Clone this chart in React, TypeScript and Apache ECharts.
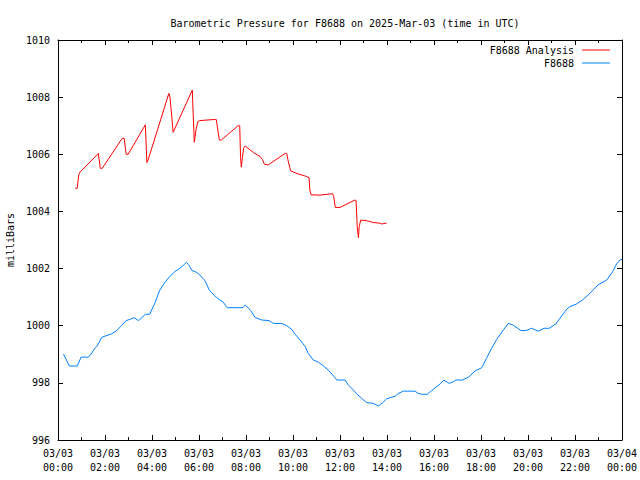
import React, { useEffect, useRef } from "react";
import * as echarts from "echarts";

const FONT = "'DejaVu Sans Mono', 'Liberation Mono', monospace";

const titleText = "Barometric Pressure for F8688 on 2025-Mar-03 (time in UTC)";
const yAxisName = "milliBars";
const analysisName = "F8688 Analysis";
const obsName = "F8688";

// minutes after 2025-03-03 00:00 UTC
const analysisMinutes = [
  44, 49, 53, 56, 103, 108, 113, 164, 169, 174, 179, 223, 227, 230, 283, 286, 294,
  343, 344, 348, 350, 353, 357, 362, 402, 404, 412, 417, 460, 464, 466, 468, 471,
  474, 478, 499, 516, 522, 527, 537, 580, 584, 588, 594, 610, 635, 641, 643, 646,
  667, 701, 704, 708, 720, 758, 761, 764, 767, 769, 773, 790, 805, 822, 826, 839,
];
const analysisValues = [
  1004.81, 1004.81, 1005.28, 1005.37, 1006.03, 1005.51, 1005.51, 1006.56, 1006.56,
  1006.0, 1006.0, 1007.03, 1005.71, 1005.8, 1008.13, 1008.0, 1006.77, 1008.25,
  1007.81, 1006.42, 1006.62, 1006.91, 1007.14, 1007.18, 1007.22, 1007.22, 1006.5,
  1006.5, 1007.0, 1007.0, 1005.92, 1005.55, 1005.9, 1006.21, 1006.29, 1006.06,
  1005.92, 1005.82, 1005.65, 1005.63, 1006.03, 1006.03, 1005.74, 1005.42, 1005.33,
  1005.22, 1005.18, 1004.75, 1004.58, 1004.57, 1004.62, 1004.52, 1004.14, 1004.14,
  1004.4, 1004.38, 1003.47, 1003.08, 1003.47, 1003.7, 1003.67, 1003.61, 1003.59,
  1003.56, 1003.59,
];

const obsMinutes = [
  14, 29, 49, 59, 77, 82, 94, 99, 112, 123, 136, 149, 162, 174, 183, 194, 206, 223,
  234, 247, 260, 272, 285, 298, 309, 319, 328, 334, 342, 351, 362, 375, 387, 400,
  413, 421, 432, 472, 478, 492, 503, 520, 539, 550, 571, 584, 597, 605, 618, 631,
  639, 652, 665, 677, 690, 701, 712, 733, 741, 754, 763, 775, 788, 805, 818, 829,
  839, 850, 862, 869, 882, 911, 920, 929, 943, 954, 967, 977, 985, 999, 1009, 1016,
  1033, 1050, 1065, 1082, 1094, 1107, 1120, 1137, 1150, 1162, 1182, 1195, 1209,
  1226, 1241, 1254, 1271, 1286, 1299, 1307, 1324, 1341, 1358, 1379, 1401, 1416,
  1426, 1435, 1440,
];
const obsValues = [
  999.01, 998.59, 998.59, 998.9, 998.9, 998.96, 999.21, 999.27, 999.6, 999.65,
  999.71, 999.82, 1000.0, 1000.18, 1000.22, 1000.28, 1000.18, 1000.4, 1000.4,
  1000.78, 1001.25, 1001.5, 1001.72, 1001.89, 1001.99, 1002.1, 1002.22, 1002.13,
  1001.93, 1001.89, 1001.78, 1001.58, 1001.23, 1001.05, 1000.9, 1000.84, 1000.63,
  1000.63, 1000.73, 1000.53, 1000.29, 1000.2, 1000.18, 1000.08, 1000.08, 1000.0,
  999.87, 999.71, 999.5, 999.27, 999.03, 998.8, 998.72, 998.6, 998.45, 998.28,
  998.1, 998.1, 997.93, 997.75, 997.61, 997.46, 997.31, 997.28, 997.19, 997.31,
  997.44, 997.49, 997.54, 997.63, 997.71, 997.71, 997.63, 997.6, 997.6, 997.73,
  997.87, 997.98, 998.1, 997.98, 998.04, 998.1, 998.1, 998.22, 998.42, 998.53,
  998.86, 999.21, 999.52, 999.85, 1000.08, 1000.02, 999.83, 999.83, 999.91,
  999.81, 999.91, 999.91, 1000.06, 1000.34, 1000.58, 1000.67, 1000.76, 1000.92,
  1001.13, 1001.43, 1001.6, 1001.89, 1002.16, 1002.3, 1002.32,
];

const xMinHours = 0;
const xMaxHours = 24;
const xStepHours = 2;
const yMin = 996;
const yMax = 1010;
const yStep = 2;

const pad2 = (n: number) => (n < 10 ? "0" + n : "" + n);
const xLabel = (h: number) => {
  const day = h >= 24 ? "03/04" : "03/03";
  const hh = Math.round(h) % 24;
  return day + "\n" + pad2(hh) + ":00";
};

export default function App() {
  const ref = useRef<HTMLDivElement>(null);
  useEffect(() => {
    if (!ref.current) return;
    const chart = echarts.init(ref.current, undefined, { renderer: "svg" });
    const analysisData = analysisMinutes.map((m, i) => [m / 60, analysisValues[i]]);
    const obsData = obsMinutes.map((m, i) => [m / 60, obsValues[i]]);
    const axisLine = { show: true, onZero: false, lineStyle: { color: "#000", width: 1 } };
    const baseX = {
      type: "value" as const,
      min: xMinHours,
      max: xMaxHours,
      interval: xStepHours,
      axisLine,
      axisTick: { show: true, inside: true, length: 5, lineStyle: { color: "#000" } },
      minorTick: { show: true, splitNumber: 2, length: 3, lineStyle: { color: "#000" } },
      splitLine: { show: false },
      minorSplitLine: { show: false },
    };
    const baseY = {
      type: "value" as const,
      min: yMin,
      max: yMax,
      interval: yStep,
      axisLine,
      axisTick: { show: true, inside: true, length: 5, lineStyle: { color: "#000" } },
      splitLine: { show: false },
    };
    const legendText = { fontFamily: FONT, fontSize: 10, color: "#000", padding: [0, 3, 0, 0] };
    const legendBase = {
      orient: "vertical",
      align: "right",
      right: 25,
      itemWidth: 28,
      itemHeight: 1,
      icon: "rect",
      textStyle: legendText,
    };
    chart.setOption({
      animation: false,
      backgroundColor: "#fff",
      title: {
        text: titleText,
        left: 340,
        top: 13,
        textAlign: "center",
        textStyle: { fontFamily: FONT, fontSize: 10, fontWeight: "normal", color: "#000" },
      },
      legend: [
        { ...legendBase, data: [analysisName], top: 40 },
        { ...legendBase, data: [obsName], top: 53 },
      ],
      grid: {
        left: 58,
        right: 18,
        top: 40,
        bottom: 40,
        containLabel: false,
        outerBoundsMode: "none",
      },
      xAxis: [
        {
          ...baseX,
          position: "bottom",
          axisLabel: {
            show: true,
            formatter: (v: number) => xLabel(v),
            fontFamily: FONT,
            fontSize: 10,
            color: "#000",
            lineHeight: 14,
            margin: 6,
          },
        },
        {
          ...baseX,
          position: "top",
          axisLabel: { show: false },
        },
      ],
      yAxis: [
        {
          ...baseY,
          position: "left",
          name: yAxisName,
          nameLocation: "middle",
          nameGap: 43,
          nameRotate: 90,
          nameTextStyle: { fontFamily: FONT, fontSize: 10, color: "#000" },
          axisLabel: {
            show: true,
            formatter: (v: number) => String(v),
            fontFamily: FONT,
            fontSize: 10,
            color: "#000",
            margin: 8,
          },
        },
        {
          ...baseY,
          position: "right",
          axisLabel: { show: false },
        },
      ],
      series: [
        {
          name: analysisName,
          type: "line",
          data: analysisData,
          symbol: "none",
          lineStyle: { color: "#ff0000", width: 1 },
          itemStyle: { color: "#ff0000" },
        },
        {
          name: obsName,
          type: "line",
          data: obsData,
          symbol: "none",
          lineStyle: { color: "#0080ff", width: 1 },
          itemStyle: { color: "#0080ff" },
        },
      ],
    });
    return () => chart.dispose();
  }, []);
  return (
    <div
      ref={ref}
      style={{ position: "fixed", left: 0, top: 0, width: 640, height: 480, background: "#fff" }}
    />
  );
}
